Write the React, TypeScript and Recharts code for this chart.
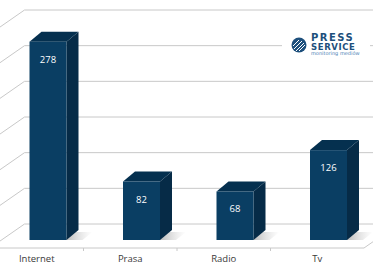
import { BarChart, Bar, XAxis, YAxis, CartesianGrid } from 'recharts'

const kategorie = ['Internet', 'Prasa', 'Radio', 'Tv']
const wartosci = [278, 82, 68, 126]
const podzialkaY = [0, 50, 100, 150, 200, 250, 300]

const dane = kategorie.map((k, i) => ({ name: k, value: wartosci[i] }))

// geometria "3D"
const SZER = 384
const WYS = 270
const DOL = 248
const GLEB_X = 34.5
const GLEB_Y = 24
const BAR_DX = 11.5
const BAR_DY = 8
const BOK_X = 12
const BOK_Y = 10
const PASMO = 374 / kategorie.length
const SIATKA = '#c8c8c8'

function Slupek3D(props: any) {
  const { x, y, width, height, index, payload } = props
  const fx = x + BAR_DX
  const top = y - BAR_DY
  const bot = y + height - BAR_DY
  const r = fx + width
  const id = `cien-${index}`
  return (
    <g>
      <defs>
        <linearGradient id={id} x1="0" y1="0" x2="1" y2="0">
          <stop offset="0%" stopColor="#8a8a8a" stopOpacity={0.7} />
          <stop offset="100%" stopColor="#bbbbbb" stopOpacity={0} />
        </linearGradient>
      </defs>
      <polygon
        points={`${r - 4},${bot} ${r + BOK_X - 4},${bot - BOK_Y + 2} ${r + BOK_X + 14},${bot - BOK_Y + 2} ${r + 16},${bot}`}
        fill={`url(#${id})`}
      />
      <polygon
        points={`${r},${top} ${r + BOK_X},${top - BOK_Y} ${r + BOK_X},${bot - BOK_Y} ${r},${bot}`}
        fill="#062b47"
      />
      <polygon
        points={`${fx},${top} ${fx + BOK_X},${top - BOK_Y} ${r + BOK_X},${top - BOK_Y} ${r},${top}`}
        fill="#05304f"
      />
      <rect x={fx} y={top} width={width} height={bot - top} fill="#0a3e63" />
      <text
        x={fx + width / 2}
        y={top + 21}
        textAnchor="middle"
        fill="#ffffff"
        fontSize={9.5}
        fontFamily="Open Sans, sans-serif"
      >
        {payload.value}
      </text>
    </g>
  )
}

function LiniaSiatki(props: any) {
  const { x1, y1, x2 } = props
  const yb = y1 - GLEB_Y
  return (
    <g key={`siatka-${y1}`}>
      <line x1={x1} y1={y1} x2={x1 + GLEB_X} y2={yb} stroke={SIATKA} />
      <line x1={x1 + GLEB_X} y1={yb} x2={SZER} y2={yb} stroke={SIATKA} />
      {y1 > DOL - 1 && <line x1={x2} y1={y1} x2={x2 + GLEB_X} y2={yb} stroke={SIATKA} />}
    </g>
  )
}

function Etykieta(props: any) {
  const { x, payload, index } = props
  return (
    <g>
      {index > 0 && (
        <line x1={x - PASMO / 2} y1={DOL} x2={x - PASMO / 2} y2={DOL + 3} stroke={SIATKA} />
      )}
      <text
        x={x}
        y={262}
        textAnchor="middle"
        fill="#3a3a3a"
        fontSize={9.5}
        fontFamily="Open Sans, sans-serif"
      >
        {payload.value}
      </text>
    </g>
  )
}

function Logo() {
  return (
    <svg
      width={90}
      height={30}
      style={{ position: 'absolute', left: 282, top: 30 }}
    >
      <rect x={0} y={0} width={88} height={30} fill="#ffffff" />
      <circle cx={17} cy={15} r={7.5} fill="#1d4f7c" />
      <g stroke="#ffffff" strokeWidth={1}>
        <line x1={11} y1={16} x2={17} y2={10} />
        <line x1={12} y1={19} x2={20} y2={11} />
        <line x1={14} y1={21} x2={22} y2={13} />
        <line x1={17} y1={21} x2={23} y2={15} />
      </g>
      <text x={29} y={11} fontSize={10} fontWeight="bold" fill="#1d4f7c" fontFamily="DejaVu Sans, sans-serif" letterSpacing={1.5}>
        PRESS
      </text>
      <text x={29} y={19.5} fontSize={8.5} fontWeight="bold" fill="#1d4f7c" fontFamily="DejaVu Sans, sans-serif" letterSpacing={0.6}>
        SERVICE
      </text>
      <text x={29} y={25} fontSize={5} fill="#4d82b5" fontFamily="DejaVu Sans, sans-serif">
        monitoring mediów
      </text>
    </svg>
  )
}

export default function App() {
  return (
    <div
      style={{
        position: 'fixed',
        left: 0,
        top: 0,
        width: 373,
        height: WYS,
        overflow: 'hidden',
        background: '#ffffff',
      }}
    >
      <div style={{ position: 'absolute', left: -10, top: 0 }}>
        <BarChart
          width={SZER}
          height={WYS}
          data={dane}
          margin={{ top: 34, right: 10, left: 0, bottom: 0 }}
        >
          <CartesianGrid vertical={false} horizontal={LiniaSiatki} />
          <XAxis
            dataKey="name"
            height={22}
            axisLine={{ stroke: SIATKA }}
            tickLine={false}
            tick={Etykieta}
            interval={0}
          />
          <YAxis hide width={0} domain={[0, 300]} ticks={podzialkaY} />
          <Bar dataKey="value" barSize={37} shape={Slupek3D} isAnimationActive={false} />
        </BarChart>
      </div>
      <Logo />
    </div>
  )
}
